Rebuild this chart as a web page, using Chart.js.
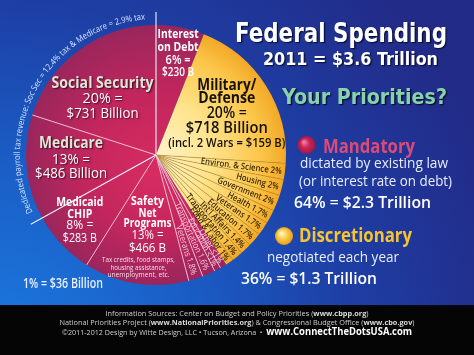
<!DOCTYPE html>
<html><head><meta charset="utf-8">
<script src="https://cdn.jsdelivr.net/npm/chart.js@4.4.1/dist/chart.umd.min.js"></script>
<style>
html,body{margin:0;padding:0;width:474px;height:355px;overflow:hidden;background:#222a86;}
#bg{position:absolute;left:0;top:0;width:474px;height:355px;
 background:radial-gradient(circle at 0% 100%, #1b7ae0 0%, #1a5ec6 32%, #1e3ea4 60%, #222b88 88%);}
#foot{position:absolute;left:0;top:305px;width:474px;height:50px;background:linear-gradient(#0a0a14 0px,#050505 3px);}
canvas{position:absolute;left:0;top:0;}
</style></head><body>
<div id="bg"></div><div id="foot"></div>
<canvas id="c" width="474" height="355"></canvas>
<script>
// ---------- DATA ----------
const categories = ['Interest\non Debt','Military/\nDefense','Environ. & Science','Housing','Government','Health','Veterans','Education',"Int'l Affairs",'Transportation','Food & Labor','Other','Education','Transportation','Veterans','Safety\nNet\nPrograms','Medicaid\nCHIP','Medicare','Social Security'];
const shares = [6,20,2,2,2,1.7,1.7,1.7,1.4,1.4,1,0.8,0.8,1.6,1.8,13,8,13,20];
const shareLabels = ['6%','20%','2%','2%','2%','1.7%','1.7%','1.7%','1.4%','1.4%','1%','<1%','<1%','1.6%','1.8%','13%','8%','13%','20%'];
const amounts = ['$230 B','$718 Billion','','','','','','','','','','','','','','$466 B','$283 B','$486 Billion','$731 Billion'];
const budgetType = ['Mandatory','Discretionary','Discretionary','Discretionary','Discretionary','Discretionary','Discretionary','Discretionary','Discretionary','Discretionary','Discretionary','Mandatory','Mandatory','Mandatory','Mandatory','Mandatory','Mandatory','Mandatory','Mandatory'];
const titleLines = ['Federal Spending','2011 = $3.6 Trillion','Your Priorities?'];
const groupNames = ['Mandatory','Discretionary'];
const groupNotes = [['dictated by existing law','(or interest rate on debt)'],['negotiated each year']];
const groupTotals = ['64% = $2.3 Trillion','36% = $1.3 Trillion'];
const scaleNote = '1% = $36 Billion';
const warsNote = '(incl. 2 Wars = $159 B)';
const safetyNote = ['Tax credits, food stamps,','housing assistance,','unemployment, etc.'];
const payrollNote = 'Dedicated payroll tax revenue: Soc Sec = 12.4% tax & Medicare = 2.9% tax';
const footerLines = [
 [['Information Sources: Center on Budget and Policy Priorities (','n'],['www.cbpp.org','b'],[')','n']],
 [['National Priorities Project (','n'],['www.NationalPriorities.org','b'],[') & Congressional Budget Office (','n'],['www.cbo.gov','b'],[')','n']],
 [['\u00A92011-2012 Design by Witte Design, LLC \u2022 Tucson, Arizona  \u2022  ','n'],['www.ConnectTheDotsUSA.com','B']]
];

// ---------- STYLE / PLACEMENT ----------
const F = "'Open Sans','Noto Sans',sans-serif";
const FT = "'DejaVu Sans Condensed','DejaVu Sans',sans-serif";
const bigStyle = {
 0:{t:.59,rf:.77,dy:[-19.4,-6.4,6.6,18.6],nf:'bold 12.5px',vf:'600 12.5px',nc:'#fff',vc:'#fff',w:[41,41,25,32]},
 1:{t:.53,rf:.63,dy:[-24,-11,4,19,33],nf:'bold 16.5px',vf:'600 15.5px',nc:'#161208',vc:'#161208',w:[59,57,40,82,117],ef:'600 12.5px'},
 18:{t:.40,rf:.60,dy:[-10,5,20],nf:'bold 15.5px',vf:'15px',nc:'#dfe6d6',vc:'#ffffff',w:[102,40,72],sh:true},
 17:{t:.575,rf:.654,dy:[-10,6,20],nf:'bold 15.5px',vf:'15px',nc:'#dfe6d6',vc:'#ffffff',w:[64,38,72],sh:true},
 16:{t:.60,rf:.77,dy:[-14,-2,9.5,22],nf:'bold 13px',vf:'13px',nc:'#fff',vc:'#fff',w:[47,25,27,34]},
 15:{t:.46,rf:.543,dy:[-20,-8,2,14,27],nf:'bold 13px',vf:'13px',nc:'#fff',vc:'#fff',w:[33,18,48,32,37]}
};

function txt(ctx,s,x,y,o){
  ctx.save();
  ctx.font=o.font; ctx.fillStyle=o.color||'#fff'; ctx.textBaseline='alphabetic';
  const m=ctx.measureText(s).width;
  const sc=o.w? o.w/m : (o.cond||0.88);
  ctx.translate(x,y); ctx.scale(sc,1);
  if(o.sh){ctx.shadowColor=o.sh;ctx.shadowOffsetX=1.2;ctx.shadowOffsetY=1.2;ctx.shadowBlur=1.5;}
  ctx.textAlign=o.align||'center';
  ctx.fillText(s,0,0);
  ctx.restore();
}
function rich(ctx,segs,cx,y,w){
  const fonts={n:'7.6px '+F,b:'bold 7.6px '+F,B:'bold 10px '+F};
  const cols={n:'#cfcfd2',b:'#dcdcde',B:'#ffffff'};
  let tot=0; const ms=segs.map(s=>{ctx.font=fonts[s[1]];const m=ctx.measureText(s[0]).width;tot+=m;return m;});
  const sc=w/tot; let x=cx-w/2;
  segs.forEach((s,i)=>{ctx.save();ctx.font=fonts[s[1]];ctx.fillStyle=cols[s[1]];ctx.textAlign='left';ctx.translate(x,y);ctx.scale(sc,1);ctx.fillText(s[0],0,0);ctx.restore();x+=ms[i]*sc;});
}
function ball(ctx,x,y,r,c0,c1,c2){
  const g=ctx.createRadialGradient(x-r*0.3,y-r*0.35,r*0.1,x,y,r);
  g.addColorStop(0,c0);g.addColorStop(0.45,c1);g.addColorStop(1,c2);
  ctx.save();ctx.beginPath();ctx.arc(x,y,r,0,Math.PI*2);ctx.fillStyle=g;ctx.fill();ctx.restore();
}

let gradCache=null;
function sliceColor(c){
  const chart=c.chart, a=chart.chartArea;
  if(!a) return '#c02858';
  if(!gradCache){
    const cx=(a.left+a.right)/2, cy=(a.top+a.bottom)/2, r=Math.min(a.right-a.left,a.bottom-a.top)/2;
    const red=chart.ctx.createRadialGradient(cx,cy+20,0,cx,cy,r);
    red.addColorStop(0,'#d82c62');red.addColorStop(0.55,'#c2265c');red.addColorStop(1,'#9a265c');
    const yel=chart.ctx.createRadialGradient(cx,cy,0,cx,cy,r);
    yel.addColorStop(0,'#fff3c8');yel.addColorStop(0.4,'#ffe590');yel.addColorStop(0.8,'#fcc64a');yel.addColorStop(1,'#f3a826');
    gradCache={red,yel};
  }
  return budgetType[c.dataIndex]==='Mandatory'?gradCache.red:gradCache.yel;
}

const overlay={
  id:'overlay',
  afterDatasetsDraw(chart){
    const ctx=chart.ctx;
    const arcs=chart.getDatasetMeta(0).data;
    const n=arcs.length;
    const cx=arcs[0].x, cy=arcs[0].y, R=arcs[0].outerRadius;
    // separators
    for(let i=0;i<n;i++){
      const a=arcs[i].startAngle, p=(i-1+n)%n;
      const t1=budgetType[p], t2=budgetType[i];
      let col=null,lw=1,len=R;
      if(t1==='Mandatory'&&t2==='Mandatory'){col='rgba(250,205,220,0.9)';lw=1;}
      else if(t1==='Discretionary'&&t2==='Discretionary'){col='rgba(190,135,20,0.85)';lw=0.7;}
      if(i===0||i===17){col='#eef0ff';lw=1.1;len=R+13;}
      if(!col) continue;
      ctx.save();ctx.strokeStyle=col;ctx.lineWidth=lw;ctx.beginPath();
      ctx.moveTo(cx,cy);ctx.lineTo(cx+len*Math.cos(a),cy+len*Math.sin(a));ctx.stroke();ctx.restore();
    }
    // small radial labels
    for(let i=0;i<n;i++){
      if(bigStyle[i]) continue;
      const mid=(arcs[i].startAngle+arcs[i].endAngle)/2;
      const yel=budgetType[i]==='Discretionary';
      ctx.save();ctx.translate(cx,cy);ctx.rotate(mid);
      ctx.font=(yel?'600 9px ':'9px ')+F;ctx.fillStyle=yel?'#3a2906':'#f7c6d8';
      ctx.textAlign='right';ctx.textBaseline='middle';
      const sc=0.86; ctx.scale(sc,1);
      ctx.fillText(categories[i]+' '+shareLabels[i],(R*(yel?0.975:0.965))/sc,0.5);
      ctx.restore();
    }
    // big labels
    Object.keys(bigStyle).forEach(k=>{
      const i=+k, st=bigStyle[i], arc=arcs[i];
      const ang=arc.startAngle+st.t*(arc.endAngle-arc.startAngle);
      const ax=cx+st.rf*R*Math.cos(ang), ay=cy+st.rf*R*Math.sin(ang);
      const lines=categories[i].split('\n').map(s=>({s,f:st.nf,c:st.nc}))
        .concat([{s:shareLabels[i]+' =',f:st.vf,c:st.vc},{s:amounts[i],f:st.vf,c:st.vc}]);
      if(i===1) lines.push({s:warsNote,f:st.ef,c:st.vc});
      lines.forEach((L,j)=>{
        txt(ctx,L.s,ax,ay+st.dy[j],{font:L.f+' '+F,color:L.c,w:st.w[j],sh:st.sh?'rgba(40,0,20,0.75)':null});
      });
      if(i===15){
        const ws=[73,56,62],dys=[37,44.5,52];
        safetyNote.forEach((s,j)=>txt(ctx,s,ax-9,ay+dys[j],{font:'7.5px '+F,color:'#f4dbe6',w:ws[j]}));
      }
    });
    // payroll arc text
    const a0=arcs[17].startAngle+4*Math.PI/180, a1=arcs[0].startAngle+2*Math.PI-4.5*Math.PI/180;
    const rb=R+6;
    ctx.save();ctx.font='8.6px '+F;ctx.fillStyle='#d4e2ff';ctx.textAlign='center';ctx.textBaseline='alphabetic';
    const chars=[...payrollNote]; const ws=chars.map(ch=>ctx.measureText(ch).width);
    const tot=ws.reduce((a,b)=>a+b,0); const sc=((a1-a0)*rb)/tot;
    let a=a0;
    chars.forEach((ch,j)=>{
      const da=ws[j]*sc/rb; const am=a+da/2;
      ctx.save();ctx.translate(cx+rb*Math.cos(am),cy+rb*Math.sin(am));ctx.rotate(am+Math.PI/2);ctx.scale(sc,1);
      ctx.fillText(ch,0,0);ctx.restore(); a+=da;
    });
    ctx.restore();
  },
  afterDraw(chart){
    const ctx=chart.ctx;
    // titles
    txt(ctx,titleLines[0],235,42,{font:'bold 27px '+FT,color:'#ffffff',w:212,align:'left',sh:'rgba(0,0,20,0.8)'});
    txt(ctx,titleLines[1],263,65,{font:'bold 18px '+FT,color:'#ffffff',w:175,align:'left',sh:'rgba(0,0,20,0.8)'});
    txt(ctx,titleLines[2],282,104,{font:'bold 21px '+FT,color:'#86d2ae',w:165,align:'left',sh:'rgba(0,0,20,0.9)'});
    // legend groups
    ball(ctx,306.5,145,9,'#f07a9e','#cc2458','#9a1a48');
    txt(ctx,groupNames[0],323,152.5,{font:'bold 20px '+F,color:'#dc4a7a',w:92,align:'left'});
    txt(ctx,groupNotes[0][0],300,168,{font:'15px '+F,color:'#e8edff',w:148,align:'left'});
    txt(ctx,groupNotes[0][1],299,185.5,{font:'15px '+F,color:'#e8edff',w:153,align:'left'});
    txt(ctx,groupTotals[0],294,207.5,{font:'600 17px '+F,color:'#ffffff',w:137,align:'left'});
    ball(ctx,284,236,9,'#fff6c8','#fbd050','#eb9c18');
    txt(ctx,groupNames[1],299,242,{font:'bold 20px '+F,color:'#f6c431',w:113,align:'left'});
    txt(ctx,groupNotes[1][0],267,262,{font:'15px '+F,color:'#e8edff',w:132,align:'left'});
    txt(ctx,groupTotals[1],241,284,{font:'600 17px '+F,color:'#ffffff',w:136,align:'left'});
    txt(ctx,scaleNote,23,288,{font:'600 14px '+F,color:'#e6eeff',w:80,align:'left'});
    // footer
    rich(ctx,footerLines[0],237,316,263);
    rich(ctx,footerLines[1],237,324.8,355);
    rich(ctx,footerLines[2],237,334.5,350);
  }
};

new Chart(document.getElementById('c'),{
  type:'pie',
  data:{labels:categories,datasets:[{data:shares,backgroundColor:sliceColor,borderWidth:0}]},
  options:{responsive:false,animation:false,devicePixelRatio:1,
    layout:{padding:{left:26,right:188,top:25,bottom:70}},
    plugins:{legend:{display:false},tooltip:{enabled:false},title:{display:false}}},
  plugins:[overlay]
});
</script>
</body></html>
